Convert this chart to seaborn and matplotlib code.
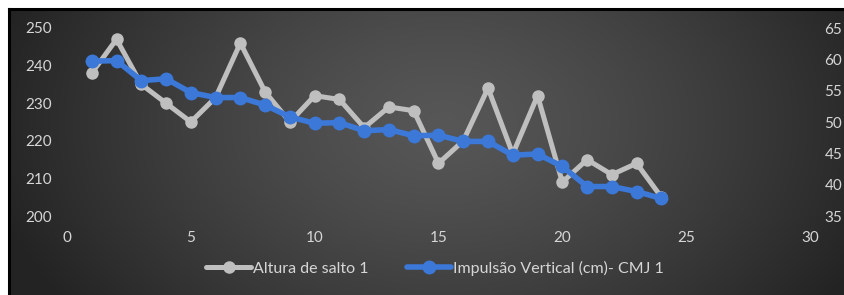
import numpy as np
import pandas as pd
import matplotlib
matplotlib.use("Agg")
import matplotlib.pyplot as plt
import seaborn as sns
from matplotlib.lines import Line2D

# ---- data ----
sessions = list(range(1, 25))
altura_salto = [238, 247, 235, 230, 225, 231.5, 246, 233, 225, 232, 231, 223.5,
                229, 228, 214, 220, 234, 216.5, 232, 209, 215, 211, 214, 205]
impulsao_cmj = [59.7, 59.8, 56.6, 56.9, 54.7, 53.9, 53.9, 52.7, 50.8, 49.8, 49.9, 48.6,
                48.8, 47.8, 47.9, 46.9, 46.9, 44.7, 44.9, 42.9, 39.7, 39.7, 38.9, 37.8]
left_ticks = [200, 210, 220, 230, 240, 250]
right_ticks = [35, 40, 45, 50, 55, 60, 65]
x_ticks = [0, 5, 10, 15, 20, 25, 30]
label_a = "Altura de salto 1"
label_b = "Impulsão Vertical (cm)- CMJ 1"

df = pd.DataFrame({"x": sessions, "a": altura_salto, "b": impulsao_cmj})

sns.set_theme(style="white")
plt.rcParams['font.family'] = ['Lato', 'DejaVu Sans']

W, H = 845, 295
fig = plt.figure(figsize=(W / 100, H / 100), dpi=100)
fig.patch.set_facecolor("white")

# background panel with radial gradient
bx0 = 9
bg = fig.add_axes([bx0 / W, 0, 1 - bx0 / W, (H - 9) / H])
nx, ny = 400, 150
gx, gy = np.meshgrid(np.linspace(0, 1, nx), np.linspace(0, 1, ny))
r = np.sqrt(((gx - 0.52) / 0.55) ** 2 + ((gy - 0.4) / 1.1) ** 2)
r = np.clip(r, 0, 1)
val = 0.34 - (0.34 - 0.14) * r ** 1.3
img = np.dstack([val, val, val])
bg.imshow(img, aspect="auto", extent=[0, 1, 0, 1], origin="upper")
bg.set_xlim(0, 1); bg.set_ylim(0, 1)
bg.set_xticks([]); bg.set_yticks([])
for s in ["right", "bottom"]:
    bg.spines[s].set_visible(False)
for s in ["left", "top"]:
    bg.spines[s].set_color("black")
    bg.spines[s].set_linewidth(2.2)

# main axes
x0, x1 = 67, 810
y_top, y_bot = 28, 216
ax = fig.add_axes([x0 / W, (H - y_bot) / H, (x1 - x0) / W, (y_bot - y_top) / H])
ax.patch.set_alpha(0)
ax2 = ax.twinx()
ax2.patch.set_alpha(0)

gray = "#bfbfbf"
blue = "#3b78d8"

sns.lineplot(data=df, x="x", y="a", ax=ax, color=gray, linewidth=3.6,
             marker="o", markersize=9, markeredgewidth=0, clip_on=False, zorder=2)
sns.lineplot(data=df, x="x", y="b", ax=ax2, color=blue, linewidth=4.0,
             marker="o", markersize=10, markeredgewidth=0, clip_on=False, zorder=3)

ax.set_xlim(0, 30)
ax.set_ylim(200, 250)
ax2.set_ylim(35, 65)
ax.set_xticks(x_ticks)
ax.set_xticklabels([str(v) for v in x_ticks])
ax.set_yticks(left_ticks)
ax.set_yticklabels([str(v) for v in left_ticks])
ax2.set_yticks(right_ticks)
ax2.set_yticklabels([str(v) for v in right_ticks])
ax.set_xlabel(""); ax.set_ylabel(""); ax2.set_ylabel("")

tc = "#d6d6d6"
for a in (ax, ax2):
    for s in a.spines.values():
        s.set_visible(False)
    a.tick_params(length=0, labelsize=11, colors=tc)
ax.tick_params(axis="y", pad=10.5)
ax.tick_params(axis="x", pad=11)
ax2.tick_params(axis="y", pad=10.5)
ax.grid(False); ax2.grid(False)

handles = [
    Line2D([], [], color=gray, linewidth=3.6, marker="o", markersize=9, markeredgewidth=0),
    Line2D([], [], color=blue, linewidth=4.0, marker="o", markersize=10, markeredgewidth=0),
]
leg = fig.legend(handles, [label_a, label_b], loc="center", bbox_to_anchor=(435 / W, 1 - 268 / H),
                 ncol=2, frameon=False, fontsize=11.5, handlelength=2.8, handletextpad=0.1,
                 columnspacing=2.4)
for t in leg.get_texts():
    t.set_color(tc)

fig.savefig("out.png", dpi=100, facecolor=fig.get_facecolor())
